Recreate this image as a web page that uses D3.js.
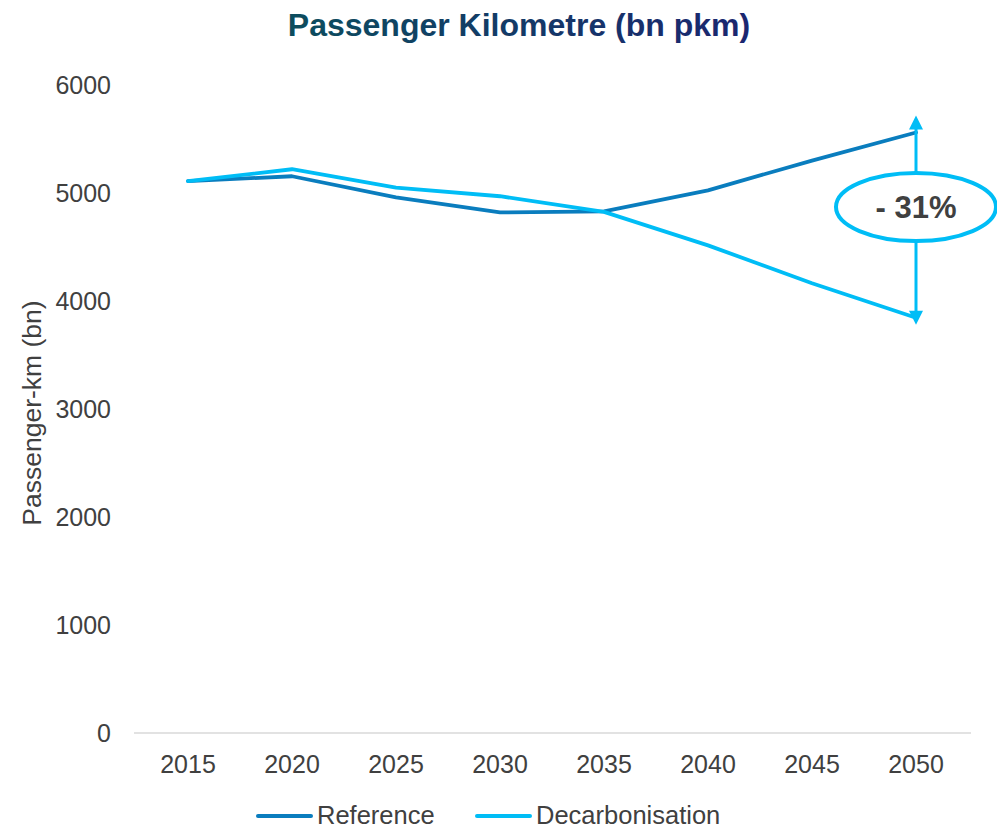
<!DOCTYPE html>
<html><head><meta charset="utf-8">
<script src="https://cdn.jsdelivr.net/npm/d3@7"></script>
<style>body{margin:0;background:#fff}svg{display:block}</style>
</head><body>
<svg id="chart" width="997" height="829"></svg>
<script>
const years = ["2015","2020","2025","2030","2035","2040","2045","2050"];
const referenceValues = [5110, 5155, 4960, 4820, 4830, 5025, 5300, 5560];
const decarbValues = [5110, 5220, 5050, 4970, 4825, 4515, 4165, 3845];
const yTicks = [0, 1000, 2000, 3000, 4000, 5000, 6000];
const seriesNames = ["Reference", "Decarbonisation"];
const seriesColors = ["#0a7dbe", "#00bdf6"];
const changeLabel = "- 31%";

const svg = d3.select("#chart");
const font = "'Liberation Sans', Arial, sans-serif";
const textColor = "#404040";

const x = d3.scaleBand().domain(years).range([136, 968]);
const y = d3.scaleLinear().domain([0, 6000]).range([733, 85]);
const cx = d => x(d) + x.bandwidth() / 2;

const defs = svg.append("defs");
const grad = defs.append("linearGradient").attr("id", "tg").attr("x1", "0%").attr("x2", "100%");
grad.append("stop").attr("offset", "0%").attr("stop-color", "#0c4d5e");
grad.append("stop").attr("offset", "100%").attr("stop-color", "#1b2670");

svg.append("text").attr("x", 519).attr("y", 36).attr("text-anchor", "middle")
  .attr("font-family", font).attr("font-weight", "bold").attr("font-size", 32)
  .attr("fill", "url(#tg)").text("Passenger Kilometre (bn pkm)");

svg.append("g").selectAll("text").data(yTicks).join("text")
  .attr("x", 111).attr("y", d => y(d)).attr("dy", "0.35em")
  .attr("text-anchor", "end").attr("font-family", font).attr("font-size", 25)
  .attr("fill", textColor).text(d => d);

svg.append("text").attr("transform", "translate(41,413) rotate(-90)")
  .attr("text-anchor", "middle").attr("font-family", font).attr("font-size", 26.5)
  .attr("fill", textColor).text("Passenger-km (bn)");

svg.append("line").attr("x1", 134).attr("x2", 971).attr("y1", y(0)).attr("y2", y(0))
  .attr("stroke", "#d9d9d9").attr("stroke-width", 1.5);
svg.append("g").selectAll("text").data(years).join("text")
  .attr("x", d => cx(d)).attr("y", 764).attr("dy", "0.35em")
  .attr("text-anchor", "middle").attr("font-family", font).attr("font-size", 25)
  .attr("fill", textColor).text(d => d);

const line = d3.line().x((d, i) => cx(years[i])).y(d => y(d));
[referenceValues, decarbValues].forEach((vals, i) => {
  svg.append("path").datum(vals).attr("d", line).attr("fill", "none")
    .attr("stroke", seriesColors[i]).attr("stroke-width", 3.8)
    .attr("stroke-linejoin", "round").attr("stroke-linecap", "round");
});

const ax = cx("2050");
const topV = referenceValues[7], botV = decarbValues[7];
const ey = 207, rx = 80, ry = 34;
const arrowColor = "#00bdf6";
const yTop = y(topV) - 17, yBot = y(botV) + 7;
svg.append("line").attr("x1", ax).attr("x2", ax).attr("y1", ey - ry).attr("y2", yTop + 12)
  .attr("stroke", arrowColor).attr("stroke-width", 3);
svg.append("line").attr("x1", ax).attr("x2", ax).attr("y1", ey + ry).attr("y2", yBot - 12)
  .attr("stroke", arrowColor).attr("stroke-width", 3);
svg.append("path").attr("d", `M${ax},${yTop} L${ax-7},${yTop+14} L${ax+7},${yTop+14} Z`).attr("fill", arrowColor);
svg.append("path").attr("d", `M${ax},${yBot} L${ax-7},${yBot-14} L${ax+7},${yBot-14} Z`).attr("fill", arrowColor);
svg.append("ellipse").attr("cx", ax).attr("cy", ey).attr("rx", rx).attr("ry", ry)
  .attr("fill", "#fff").attr("stroke", arrowColor).attr("stroke-width", 4);
svg.append("text").attr("x", ax).attr("y", ey).attr("dy", "0.36em").attr("text-anchor", "middle")
  .attr("font-family", font).attr("font-weight", "bold").attr("font-size", 31)
  .attr("fill", textColor).text(changeLabel);

const legendX = [258, 477];
seriesNames.forEach((n, i) => {
  svg.append("line").attr("x1", legendX[i]).attr("x2", legendX[i] + 53).attr("y1", 816).attr("y2", 816)
    .attr("stroke", seriesColors[i]).attr("stroke-width", 4).attr("stroke-linecap", "round");
  svg.append("text").attr("x", legendX[i] + 59).attr("y", 815).attr("dy", "0.35em")
    .attr("font-family", font).attr("font-size", 25.5).attr("fill", textColor).text(n);
});
</script>
</body></html>
